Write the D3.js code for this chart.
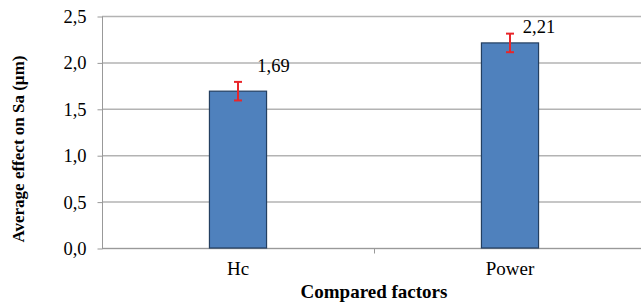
<!DOCTYPE html>
<html>
<head>
<meta charset="utf-8">
<script src="https://cdn.jsdelivr.net/npm/d3@7"></script>
<style>
body { margin: 0; background: #fff; }
</style>
</head>
<body>
<svg id="chart" width="641" height="303"></svg>
<script>
var factors = ["Hc", "Power"];
var effects = [1.69, 2.21];
var errors = [0.1, 0.1];
var yTicks = [0, 0.5, 1.0, 1.5, 2.0, 2.5];

// label nudges, as in the original figure
var labelDx = [35.5, 29];
var labelDy = [-19.5, -10];

var serif = "'Liberation Serif', 'Times New Roman', 'DejaVu Serif', serif";

var svg = d3.select("#chart");
var plotL = 102, plotR = 646, plotT = 16, plotB = 248;

var x = d3.scaleBand().domain(factors).range([plotL, plotR]);
var y = d3.scaleLinear().domain([0, 2.5]).range([plotB, plotT]);
var fmt = function(d) { return d3.format(".1f")(d).replace(".", ","); };

// gridlines
svg.selectAll(".grid")
	.data(yTicks)
	.enter()
	.append("line")
	.attr("x1", plotL).attr("x2", 641)
	.attr("y1", function(d) { return y(d) + 0.5; })
	.attr("y2", function(d) { return y(d) + 0.5; })
	.style("stroke", "#b3b3b3")
	.style("stroke-width", 1.5);

// y axis
var yAxis = d3.axisLeft(y).tickValues(yTicks).tickFormat(fmt).tickSize(5).tickPadding(11);
var gy = svg.append("g").attr("transform", "translate(" + (plotL + 0.5) + ",0.5)").call(yAxis);
gy.attr("font-family", null).attr("font-size", null);
gy.select(".domain").style("stroke", "#999").attr("d", "M0," + plotT + "V" + plotB);
gy.selectAll(".tick line").style("stroke", "#999");
gy.selectAll(".tick text").style("font-family", serif).style("font-size", "18.5px").style("fill", "#000");

// x axis
var xAxis = d3.axisBottom(x).tickSize(0).tickPadding(13);
var gx = svg.append("g").attr("transform", "translate(0," + (plotB + 0.5) + ")").call(xAxis);
gx.attr("font-family", null).attr("font-size", null);
gx.select(".domain").style("stroke", "#999").attr("d", "M" + plotL + ",0H641");
gx.selectAll(".tick text").style("font-family", serif).style("font-size", "19px").style("fill", "#000");
gx.append("line")
	.attr("x1", x("Power") + 0.5).attr("x2", x("Power") + 0.5)
	.attr("y1", 0).attr("y2", 5)
	.style("stroke", "#999");

// bars
var barW = x.bandwidth() * 0.21;
svg.selectAll(".bar")
	.data(factors)
	.enter()
	.append("rect")
	.attr("class", "bar")
	.attr("x", function(d) { return x(d) + x.bandwidth() / 2 - barW / 2; })
	.attr("y", function(d, i) { return y(effects[i]); })
	.attr("width", barW)
	.attr("height", function(d, i) { return y(0) - y(effects[i]); })
	.style("fill", "#4f81bd")
	.style("stroke", "#243f60")
	.style("stroke-width", 1.2);

// error bars
factors.forEach(function(f, i) {
	var cx = x(f) + x.bandwidth() / 2;
	var y1 = y(effects[i] + errors[i]), y2 = y(effects[i] - errors[i]);
	var g = svg.append("g").style("stroke", "#e8262a").style("stroke-width", 2);
	g.append("line").attr("x1", cx).attr("x2", cx).attr("y1", y1).attr("y2", y2);
	g.append("line").attr("x1", cx - 4).attr("x2", cx + 4).attr("y1", y1).attr("y2", y1);
	g.append("line").attr("x1", cx - 4).attr("x2", cx + 4).attr("y1", y2).attr("y2", y2);

	svg.append("text")
		.attr("x", cx + labelDx[i])
		.attr("y", y(effects[i]) + labelDy[i])
		.attr("text-anchor", "middle")
		.style("font-family", serif)
		.style("font-size", "18.5px")
		.text(String(effects[i]).replace(".", ","));
});

// axis titles
svg.append("text")
	.attr("transform", "translate(24,149) rotate(-90)")
	.attr("text-anchor", "middle")
	.style("font-family", serif)
	.style("font-size", "17px")
	.style("font-weight", "bold")
	.text("Average effect on Sa (µm)");

svg.append("text")
	.attr("x", (plotL + plotR) / 2)
	.attr("y", 298)
	.attr("text-anchor", "middle")
	.style("font-family", serif)
	.style("font-size", "19px")
	.style("font-weight", "bold")
	.text("Compared factors");
</script>
</body>
</html>
